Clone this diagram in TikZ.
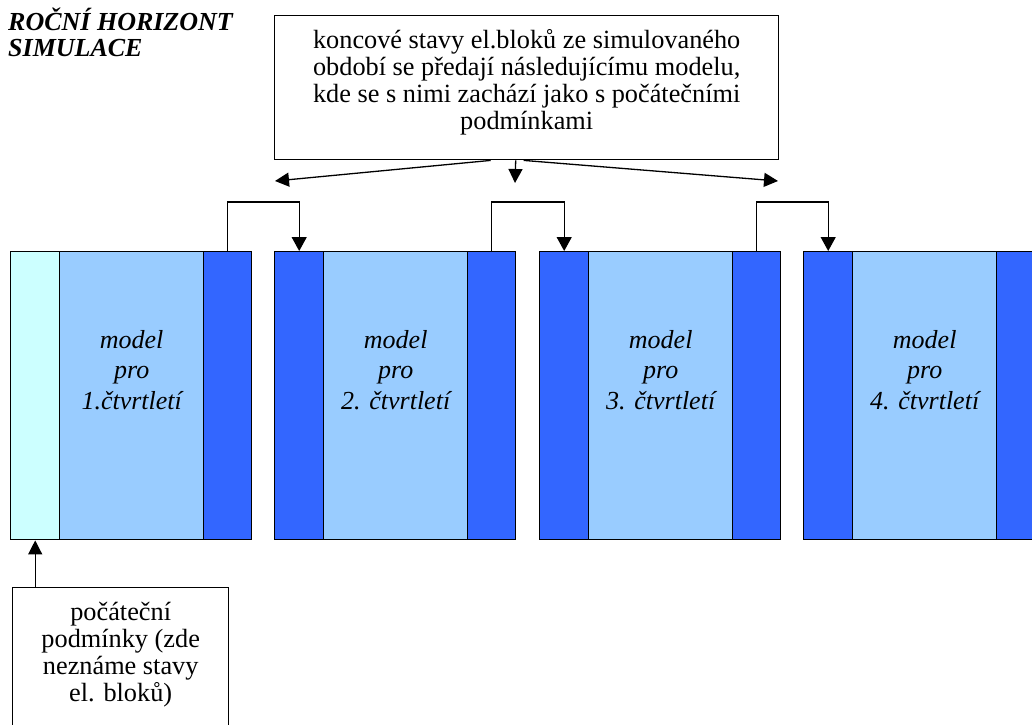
\documentclass[tikz,border=0pt]{standalone}
\usepackage{fontspec}
\setmainfont{LiberationSerif}[
  Extension=.ttf,
  UprightFont=*-Regular,
  BoldFont=*-Bold,
  ItalicFont=*-Italic,
  BoldItalicFont=*-BoldItalic]
\usetikzlibrary{arrows.meta,calc}

\definecolor{initfill}{HTML}{CCFFFF}
\definecolor{bodyfill}{HTML}{99CCFF}
\definecolor{statefill}{HTML}{3366FF}

\begin{document}
\begin{tikzpicture}[x=1pt,y=-1pt,
  strip/.style={draw=black, line width=1.4pt, minimum height=288pt,
    inner sep=0pt, anchor=north west},
  notebox/.style={draw=black, line width=1.4pt, fill=white, inner sep=0pt},
  plain/.style={font=\fontsize{26.3}{27}\selectfont, align=center, inner sep=0pt},
  modeltext/.style={font=\fontsize{26}{30.5}\selectfont\itshape, align=center, inner sep=0pt},
  arr/.style={line width=1.3pt, -{Triangle[length=14pt,width=14pt]}},
  link/.style={line width=1.3pt, -{Triangle[length=14pt,width=15pt]}}]

\useasboundingbox (0,0) rectangle (1032,724);
\clip (0,0) rectangle (1032,724);

% heading
\node[anchor=north west, align=left, inner sep=0pt,
  font=\fontsize{26}{26}\selectfont\bfseries\itshape] (title) at (8,8)
  {ROČNÍ HORIZONT\\SIMULACE};

% the four quarterly models: entry states | model body | final states
\foreach \i/\x/\c/\q in {1/10/initfill/{1.čtvrtletí},
                         2/274/statefill/{2. čtvrtletí},
                         3/539/statefill/{3. čtvrtletí},
                         4/803/statefill/{4. čtvrtletí}} {
  \node[strip, fill=\c, minimum width=49pt] (in\i) at (\x,251) {};
  \node[strip, fill=bodyfill, minimum width=144pt] (body\i) at (\x+49,251) {};
  \node[strip, fill=statefill, minimum width=48pt] (out\i) at (\x+193,251) {};
  \node[modeltext, anchor=north] (lbl\i) at ($(body\i.north)+(0,79)$)
    {model\\pro\\\q};
}

% final states handed over to the next model
\foreach \a/\b in {1/2,2/3,3/4}
  \draw[link] (out\a.north) -- ++(0,-49) -| (in\b.north);

% explanatory note on the hand-over
\node[notebox, minimum width=504pt, minimum height=144pt, anchor=north west]
  (note) at (274,15) {};
\node[plain, anchor=north] (noteTxt) at ($(note.north)+(0,14)$)
  {koncové stavy el.bloků ze simulovaného\\
   období se předají následujícímu modelu,\\
   kde se s nimi zachází jako s počátečními\\
   podmínkami};
\coordinate (tipL) at (275,181);
\coordinate (tipM) at (515,183);
\coordinate (tipR) at (778,181);
\draw[arr] ($(note.south)+(-36,0)$) -- (tipL);
\draw[arr] ($(note.south)+(-11,0)$) -- (tipM);
\draw[arr] ($(note.south)+(-3,0)$) -- (tipR);

% initial conditions of the first model
\node[notebox, minimum width=216pt, minimum height=160pt, anchor=north west]
  (init) at (12,587) {};
\node[plain, anchor=north] (initTxt) at ($(init.north)+(0,15)$)
  {počáteční\\podmínky (zde\\neznáme stavy\\el. bloků)};
\draw[arr] (init.north -| in1) -- (in1.south);

\end{tikzpicture}
\end{document}
